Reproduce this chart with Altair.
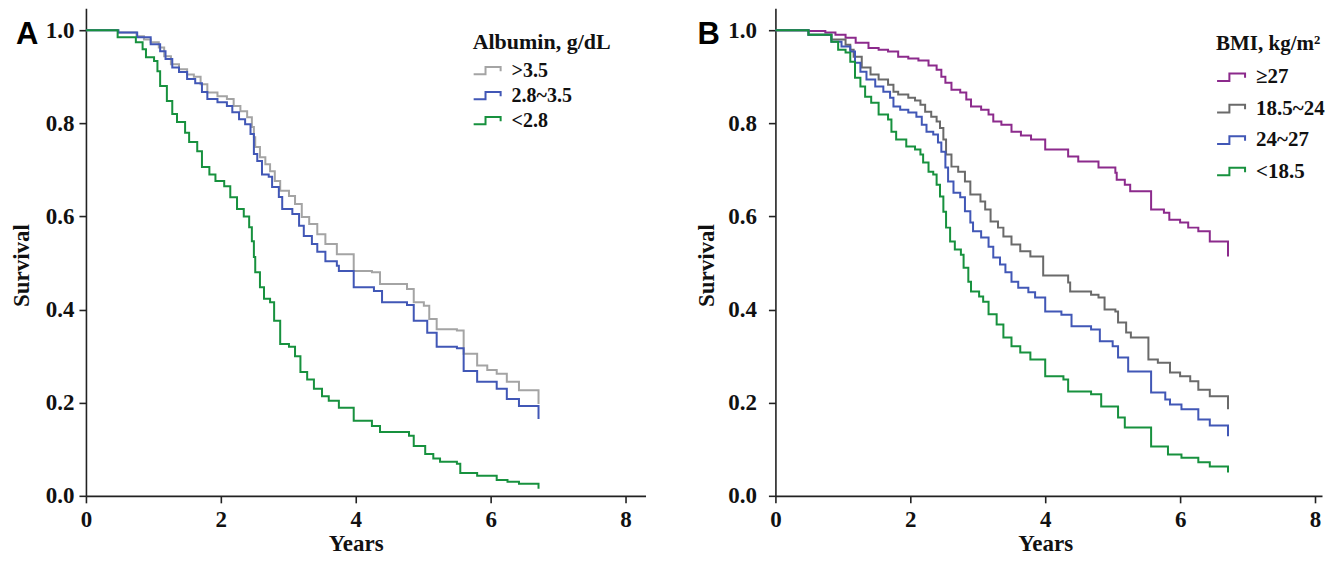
import altair as alt
import pandas as pd

# ---------------- Panel A : Albumin ----------------
a_groups = [">3.5", "2.8~3.5", "<2.8"]
a_colors = ["#a4a4a4", "#4157b6", "#17913e"]

a_hi_t = [0, 0.48, 0.75, 0.86, 0.96, 1.08, 1.16, 1.26, 1.38, 1.50, 1.60, 1.70, 1.80, 1.95, 2.09, 2.19,
          2.29, 2.39, 2.46, 2.49, 2.51, 2.58, 2.66, 2.73, 2.80, 2.88, 3.01, 3.10, 3.20, 3.31, 3.43,
          3.55, 3.72, 3.97, 4.24, 4.36, 4.76, 4.86, 5.01, 5.09, 5.20, 5.50, 5.60, 5.80, 5.95, 6.09,
          6.24, 6.42, 6.71, 6.71]
a_hi_s = [1.0, 0.995, 0.987, 0.98, 0.974, 0.963, 0.944, 0.927, 0.916, 0.905, 0.9, 0.884, 0.866, 0.858,
          0.852, 0.837, 0.826, 0.813, 0.792, 0.77, 0.749, 0.727, 0.712, 0.697, 0.676, 0.655, 0.644,
          0.627, 0.599, 0.584, 0.562, 0.541, 0.519, 0.483, 0.48, 0.455, 0.444, 0.416, 0.408, 0.38,
          0.358, 0.355, 0.305, 0.28, 0.27, 0.262, 0.245, 0.227, 0.227, 0.197]

a_mid_t = [0, 0.48, 0.76, 0.96, 1.10, 1.18, 1.28, 1.38, 1.50, 1.62, 1.72, 1.80, 1.95, 2.09, 2.17, 2.27,
           2.36, 2.44, 2.49, 2.54, 2.61, 2.71, 2.76, 2.86, 2.91, 3.06, 3.16, 3.23, 3.35, 3.43, 3.55,
           3.72, 3.75, 3.97, 4.27, 4.39, 4.76, 4.86, 5.06, 5.20, 5.50, 5.60, 5.80, 6.09, 6.24, 6.42,
           6.71, 6.71]
a_mid_s = [1.0, 0.995, 0.985, 0.97, 0.955, 0.938, 0.92, 0.91, 0.895, 0.886, 0.867, 0.852, 0.845, 0.837,
           0.824, 0.809, 0.798, 0.777, 0.734, 0.719, 0.69, 0.685, 0.663, 0.642, 0.616, 0.605, 0.58,
           0.558, 0.541, 0.524, 0.504, 0.494, 0.483, 0.448, 0.44, 0.416, 0.41, 0.376, 0.35, 0.32,
           0.317, 0.268, 0.245, 0.23, 0.208, 0.193, 0.193, 0.165]

a_lo_t = [0, 0.47, 0.74, 0.84, 0.89, 1.01, 1.06, 1.10, 1.20, 1.28, 1.35, 1.47, 1.53, 1.65, 1.72, 1.83,
          1.92, 2.05, 2.14, 2.24, 2.34, 2.42, 2.46, 2.49, 2.51, 2.58, 2.64, 2.73, 2.79, 2.88, 3.01,
          3.10, 3.18, 3.28, 3.38, 3.50, 3.60, 3.75, 3.97, 4.24, 4.36, 4.79, 4.86, 5.03, 5.15, 5.25,
          5.50, 5.55, 5.80, 6.09, 6.25, 6.42, 6.71, 6.71]
a_lo_s = [1.0, 0.985, 0.974, 0.959, 0.942, 0.934, 0.912, 0.88, 0.848, 0.82, 0.803, 0.78, 0.76, 0.74,
          0.706, 0.69, 0.676, 0.665, 0.641, 0.616, 0.60, 0.577, 0.547, 0.513, 0.48, 0.448, 0.423,
          0.416, 0.376, 0.326, 0.32, 0.3, 0.266, 0.25, 0.23, 0.214, 0.204, 0.189, 0.161, 0.15, 0.137,
          0.129, 0.107, 0.09, 0.08, 0.073, 0.069, 0.049, 0.043, 0.034, 0.03, 0.026, 0.021, 0.015]

# ---------------- Panel B : BMI ----------------
b_groups = ["≥27", "18.5~24", "24~27", "<18.5"]
b_colors = ["#8c2a8c", "#6a6a6a", "#4157b6", "#17913e"]

b_p_t = [0, 0.49, 0.74, 0.89, 1.04, 1.19, 1.38, 1.53, 1.67, 1.82, 1.97, 2.12, 2.27, 2.39, 2.46, 2.52,
         2.61, 2.74, 2.83, 2.90, 3.05, 3.16, 3.23, 3.35, 3.50, 3.64, 3.79, 4.00, 4.34, 4.49, 4.79,
         5.04, 5.06, 5.18, 5.26, 5.57, 5.76, 5.84, 6.00, 6.12, 6.27, 6.44, 6.71, 6.71]
b_p_s = [1.0, 0.998, 0.995, 0.99, 0.984, 0.973, 0.962, 0.958, 0.954, 0.943, 0.939, 0.935, 0.924, 0.915,
         0.9, 0.887, 0.872, 0.866, 0.851, 0.836, 0.829, 0.819, 0.804, 0.797, 0.782, 0.774, 0.765,
         0.744, 0.729, 0.718, 0.705, 0.694, 0.679, 0.668, 0.654, 0.615, 0.608, 0.593, 0.587, 0.576,
         0.568, 0.546, 0.546, 0.514]

b_n_t = [0, 0.49, 0.83, 1.04, 1.11, 1.16, 1.28, 1.41, 1.53, 1.67, 1.75, 1.82, 1.97, 2.07, 2.15, 2.22,
         2.31, 2.39, 2.44, 2.49, 2.53, 2.61, 2.71, 2.81, 2.89, 3.04, 3.11, 3.19, 3.30, 3.38, 3.50,
         3.63, 3.78, 3.97, 4.34, 4.37, 4.68, 4.79, 4.88, 5.04, 5.08, 5.20, 5.27, 5.53, 5.67, 5.85,
         6.00, 6.15, 6.27, 6.44, 6.71, 6.71]
b_n_s = [1.0, 0.99, 0.98, 0.969, 0.958, 0.943, 0.92, 0.905, 0.894, 0.883, 0.868, 0.862, 0.855, 0.849,
         0.84, 0.825, 0.814, 0.804, 0.79, 0.765, 0.733, 0.707, 0.696, 0.675, 0.647, 0.632, 0.615,
         0.589, 0.576, 0.557, 0.54, 0.525, 0.514, 0.473, 0.458, 0.439, 0.432, 0.426, 0.40, 0.396,
         0.372, 0.351, 0.34, 0.293, 0.286, 0.265, 0.257, 0.246, 0.228, 0.214, 0.214, 0.186]

b_o_t = [0, 0.49, 0.83, 0.98, 1.11, 1.18, 1.26, 1.35, 1.48, 1.60, 1.70, 1.75, 1.85, 1.97, 2.09, 2.17,
         2.24, 2.34, 2.41, 2.46, 2.52, 2.56, 2.64, 2.74, 2.81, 2.89, 2.93, 3.05, 3.16, 3.23, 3.33,
         3.41, 3.50, 3.60, 3.75, 3.85, 4.00, 4.24, 4.39, 4.68, 4.81, 5.00, 5.08, 5.23, 5.57, 5.78,
         5.85, 6.02, 6.27, 6.44, 6.71, 6.71]
b_o_s = [1.0, 0.99, 0.975, 0.965, 0.954, 0.93, 0.911, 0.894, 0.879, 0.868, 0.855, 0.836, 0.829, 0.823,
         0.814, 0.797, 0.782, 0.776, 0.759, 0.739, 0.705, 0.675, 0.651, 0.641, 0.611, 0.587, 0.568,
         0.555, 0.535, 0.512, 0.497, 0.48, 0.46, 0.447, 0.437, 0.426, 0.396, 0.389, 0.364, 0.357,
         0.332, 0.321, 0.297, 0.267, 0.222, 0.207, 0.196, 0.186, 0.164, 0.151, 0.151, 0.128]

b_u_t = [0, 0.49, 0.83, 0.93, 1.04, 1.11, 1.18, 1.26, 1.33, 1.42, 1.53, 1.67, 1.72, 1.79, 1.94, 2.07,
         2.15, 2.19, 2.27, 2.34, 2.39, 2.44, 2.49, 2.53, 2.59, 2.66, 2.75, 2.79, 2.86, 2.90, 3.02,
         3.08, 3.16, 3.28, 3.38, 3.50, 3.63, 3.78, 4.00, 4.27, 4.34, 4.68, 4.83, 5.08, 5.18, 5.57,
         5.82, 6.02, 6.27, 6.44, 6.71, 6.71]
b_u_s = [1.0, 0.99, 0.975, 0.958, 0.952, 0.932, 0.898, 0.879, 0.857, 0.844, 0.819, 0.808, 0.782, 0.765,
         0.75, 0.744, 0.733, 0.716, 0.696, 0.69, 0.668, 0.643, 0.61, 0.576, 0.546, 0.529, 0.518,
         0.49, 0.46, 0.439, 0.428, 0.417, 0.39, 0.368, 0.34, 0.321, 0.308, 0.293, 0.257, 0.25, 0.224,
         0.218, 0.192, 0.168, 0.147, 0.106, 0.089, 0.082, 0.072, 0.063, 0.063, 0.05]

x_ticks = [0, 2, 4, 6, 8]
y_ticks = [0.0, 0.2, 0.4, 0.6, 0.8, 1.0]

SERIF = "Liberation Serif"
SANS = "Liberation Sans"
STEP_SYMBOL = "M-1,0.27H-0.12V-0.27H1V0.05"
PX_PER_YEAR = 67.5
PX_PER_UNIT = 466.0
PLOT_H = 488


def frame(series):
    rows = []
    for name, ts, ss in series:
        for i, (t, s) in enumerate(zip(ts, ss)):
            rows.append({"t": t, "s": s, "grp": name, "idx": i})
    return pd.DataFrame(rows)


def panel(df, groups, colors, letter, letter_x, legend_title, legend_x, legend_y,
          label_size, title_size, row_pad, title_pad, sym_size, ytitle_x, ylab_pad, width):
    lines = alt.Chart(df).mark_line(interpolate="step-after", strokeWidth=2).encode(
        x=alt.X("t:Q",
                scale=alt.Scale(domain=[0, width / PX_PER_YEAR], nice=False, zero=False),
                axis=alt.Axis(values=x_ticks, title="Years", labelFlush=False,
                              labelPadding=6, titleX=270, titleY=55,
                              titleBaseline="alphabetic", titleAnchor="middle")),
        y=alt.Y("s:Q",
                scale=alt.Scale(domain=[0, PLOT_H / PX_PER_UNIT], nice=False),
                axis=alt.Axis(values=y_ticks, format=".1f", title="Survival",
                              labelPadding=ylab_pad, titleX=ytitle_x, titleY=257,
                              titleBaseline="alphabetic", titleAngle=270)),
        color=alt.Color("grp:N",
                        scale=alt.Scale(domain=groups, range=colors),
                        sort=groups,
                        legend=alt.Legend(title=legend_title, orient="none",
                                          legendX=legend_x, legendY=legend_y,
                                          symbolType=STEP_SYMBOL, symbolSize=sym_size,
                                          symbolStrokeWidth=2,
                                          symbolFillColor="transparent",
                                          labelFont=SERIF, labelFontWeight="bold",
                                          labelFontSize=label_size, labelColor="#111111",
                                          labelOffset=10,
                                          titleFont=SERIF, titleFontWeight="bold",
                                          titleFontSize=title_size, titleColor="#111111",
                                          titlePadding=title_pad, rowPadding=row_pad)),
        order="idx:Q",
    )
    lab = alt.Chart(pd.DataFrame({"lab": [letter]})).mark_text(
        font=SANS, fontWeight="bold", fontSize=31, align="left", baseline="alphabetic",
        color="#000000"
    ).encode(text="lab:N", x=alt.value(letter_x), y=alt.value(36))
    return alt.layer(lines, lab).properties(width=width, height=PLOT_H)


df_a = frame([(">3.5", a_hi_t, a_hi_s), ("2.8~3.5", a_mid_t, a_mid_s), ("<2.8", a_lo_t, a_lo_s)])
df_b = frame([("≥27", b_p_t, b_p_s), ("18.5~24", b_n_t, b_n_s),
              ("24~27", b_o_t, b_o_s), ("<18.5", b_u_t, b_u_s)])

pa = panel(df_a, a_groups, a_colors, "A", -70, "Albumin, g/dL", 387, 24,
           20, 22, -2, 2, 729, -57, 5, 560)
pb = panel(df_b, b_groups, b_colors, "B", -78, "BMI, kg/m²", 441, 25,
           21, 21, 6.5, 8, 784, -62, 12, 547)

chart = alt.hconcat(pa, pb, spacing=50).resolve_scale(color="independent").properties(
    padding={"left": 3, "top": 0, "right": 0, "bottom": 0}
).configure_view(stroke=None).configure_axis(
    grid=False,
    domainColor="#222222", domainWidth=1.6,
    tickColor="#222222", tickWidth=1.6, tickSize=7,
    labelFont=SERIF, labelFontWeight="bold", labelFontSize=23, labelColor="#111111",
    titleFont=SERIF, titleFontWeight="bold", titleFontSize=23, titleColor="#111111",
)

chart.save("out.html", embed_options={"renderer": "svg", "actions": False})
